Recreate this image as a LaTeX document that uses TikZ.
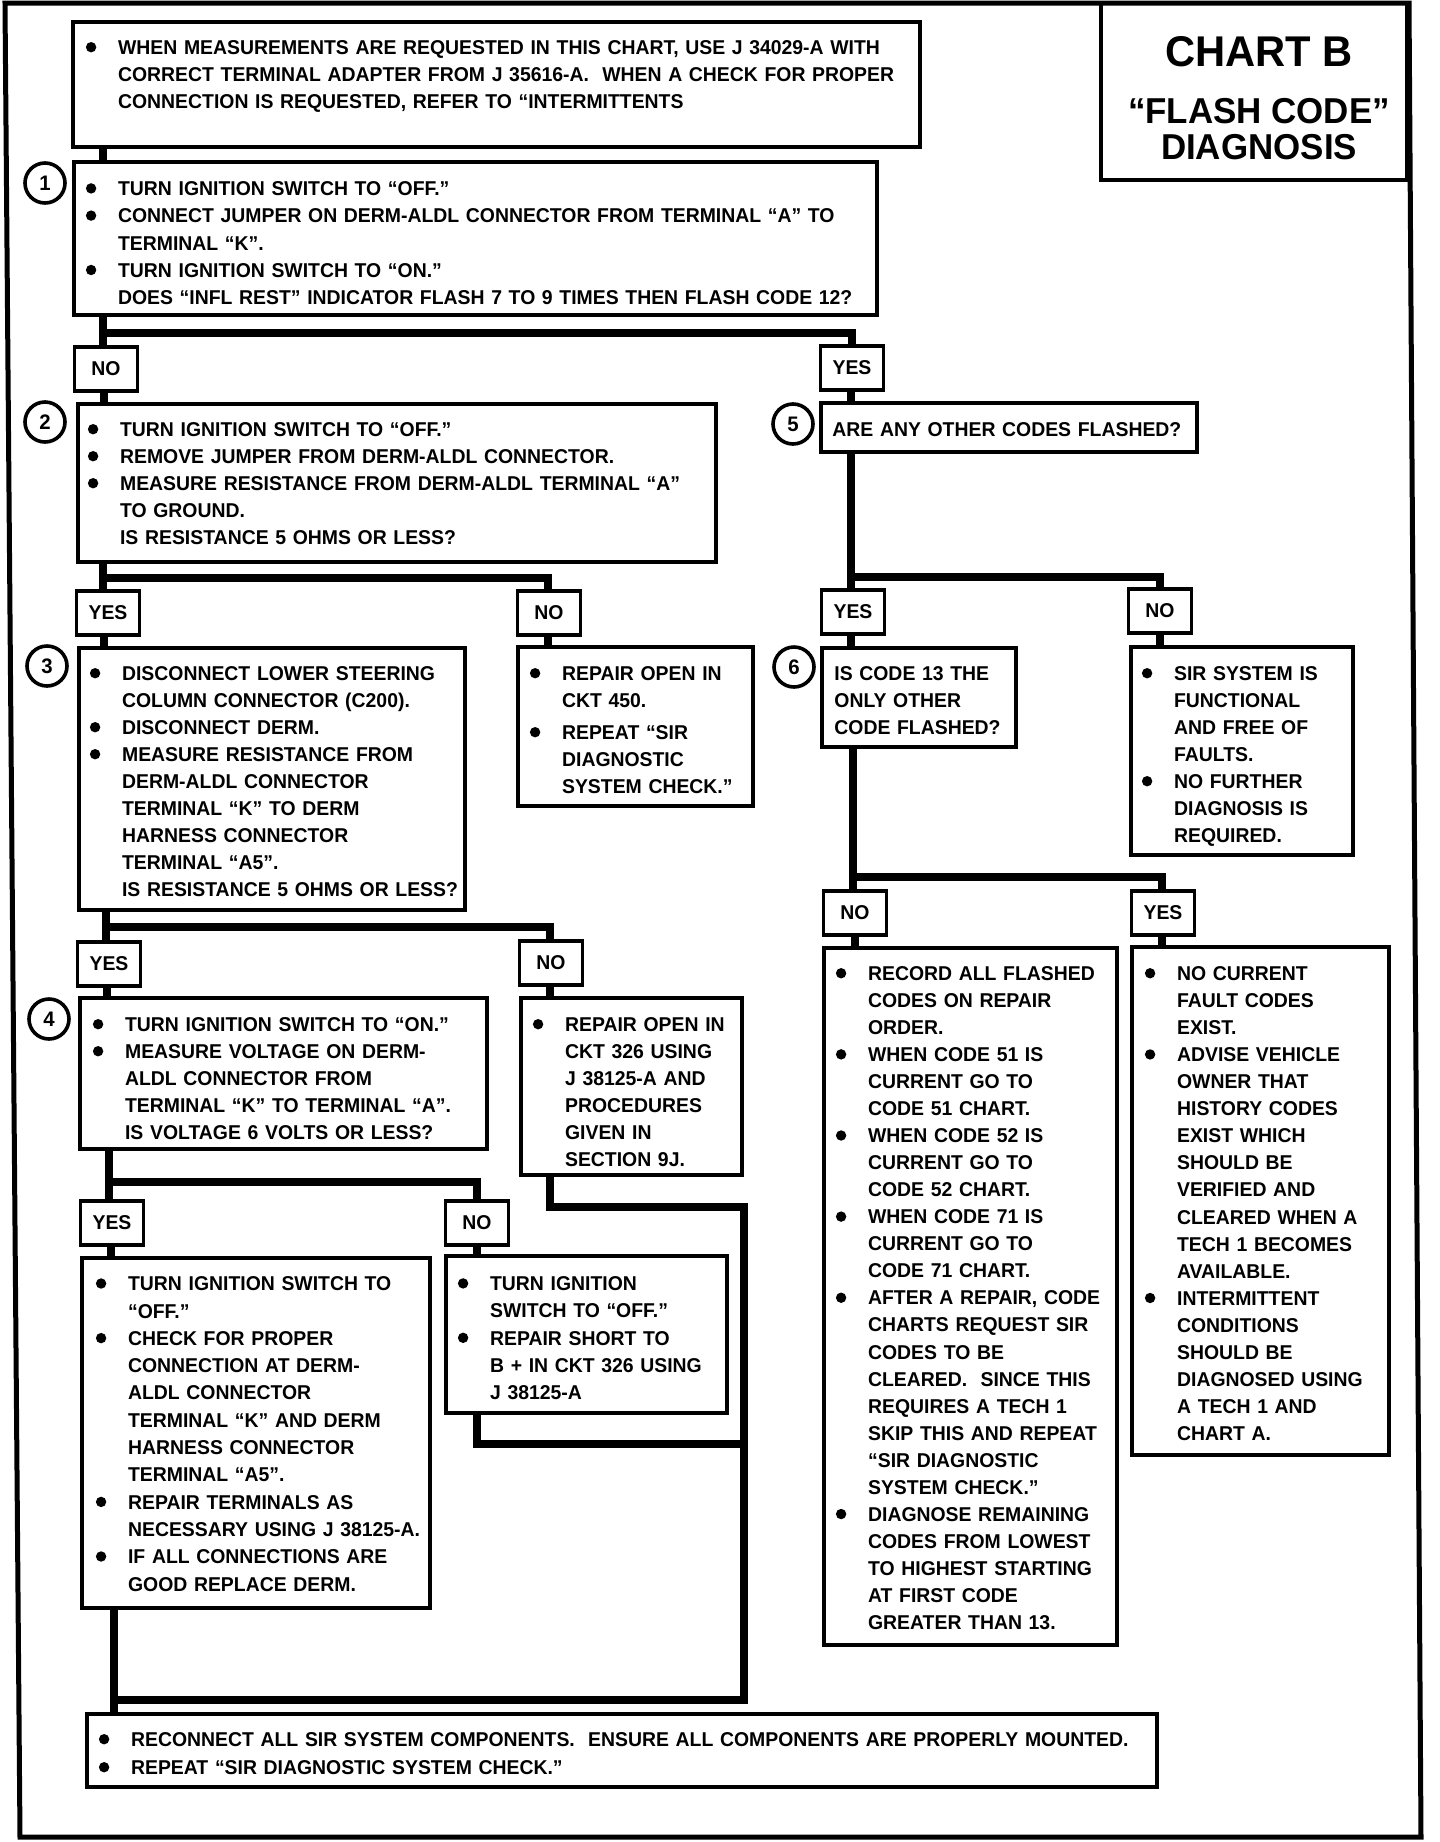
\documentclass[tikz,border=0pt]{standalone}
\usepackage{fontspec}
\setmainfont{Liberation Sans}[FakeStretch=0.97]
\usepackage{graphicx}
\usetikzlibrary{fit,calc}
\newlength\hangw
\setlength\hangw{17.35pt}
\newcommand\bdot{\tikz[x=1pt,y=1pt,baseline=-3.6pt]\fill (0,0) circle (2.6pt);}
\newcommand\bitem{\par\noindent\rule{0pt}{10pt}\makebox[\hangw][l]{\hspace{1.25pt}\bdot}}
\newcommand\citem{\par\noindent\rule{0pt}{10pt}\hspace*{\hangw}}
\newcommand\pline{\par\noindent\rule{0pt}{10pt}}
\begin{document}
\begin{tikzpicture}[x=0.5pt,y=-0.5pt,
  box/.style={draw, line width=1.6pt, inner sep=0pt},
  lab/.style={draw, line width=1.6pt, inner sep=0pt, minimum width=31.5pt, minimum height=22pt, font=\bfseries\fontsize{10}{12}\selectfont},
  num/.style={circle, draw, line width=1.8pt, minimum size=20pt, inner sep=0pt, font=\bfseries\fontsize{10.5}{12}\selectfont},
  conn/.style={line width=3.8pt},
  outerframe/.style={line width=2.5pt},
  txt/.style={anchor=north west, inner sep=0pt, text width=560pt},
  tf/.style={font=\bfseries\fontsize{10}{#1}\selectfont},
]
\useasboundingbox (0,0) rectangle (1440,1842);
\draw[outerframe] (5,3) -- (1409,3) -- (1421,1837) -- (20,1837) -- cycle;

% title
\node[box, fit={(1101,3) (1407,180)}] (title) {};
\node[font=\bfseries\fontsize{21.5}{24}\selectfont] (t1) at (1259,52) {CHART B};
\node[font=\bfseries\fontsize{18}{20}\selectfont] (t2) at (1259,111) {“FLASH CODE”};
\node[font=\bfseries\fontsize{18}{20}\selectfont] (t3) at (1259,147) {DIAGNOSIS};

% x positions
\coordinate (x103) at (103,0);
\coordinate (x104) at (104,0);
\coordinate (x106) at (106,0);
\coordinate (x107) at (107,0);
\coordinate (x109) at (109,0);
\coordinate (x111) at (111,0);
\coordinate (x114) at (114,0);
\coordinate (x477) at (477,0);
\coordinate (x548) at (548,0);
\coordinate (x550) at (550,0);
\coordinate (x851) at (851,0);
\coordinate (x853) at (853,0);
\coordinate (x855) at (855,0);
\coordinate (x1160) at (1160,0);
\coordinate (x1162) at (1162,0);

% boxes
\node[box, fit={(73,22) (920,147)}] (top) {};
\node[box, fit={(74,162) (877,315)}] (b1) {};
\node[lab] (no1) at (106,369) {NO};
\node[lab] (yes1) at (852,368) {YES};
\node[box, fit={(78,404) (716,562)}] (b2) {};
\node[box, fit={(821,403) (1197,452)}] (b5) {};
\node[lab] (yes2) at (108,613) {YES};
\node[lab] (no2) at (549,613) {NO};
\node[lab] (yes5) at (853,612) {YES};
\node[lab] (no5) at (1160,611) {NO};
\node[box, fit={(79,648) (465,910)}] (b3) {};
\node[box, fit={(518,647) (753,806)}] (b450) {};
\node[box, fit={(822,648) (1016,747)}] (b6) {};
\node[box, fit={(1131,647) (1353,855)}] (bsir) {};
\node[lab] (yes3) at (109,964) {YES};
\node[lab] (no3) at (551,963) {NO};
\node[box, fit={(80,998) (487,1149)}] (b4) {};
\node[box, fit={(521,998) (742,1175)}] (b326) {};
\node[lab] (yes4) at (112,1223) {YES};
\node[lab] (no4) at (477,1223) {NO};
\node[box, fit={(82,1258) (430,1608)}] (bl) {};
\node[box, fit={(446,1256) (727,1413)}] (br) {};
\node[lab] (no6) at (855,913) {NO};
\node[lab] (yes6) at (1163,913) {YES};
\node[box, fit={(824,948) (1117,1645)}] (brec) {};
\node[box, fit={(1132,947) (1389,1455)}] (bcur) {};
\node[box, fit={(87,1714) (1157,1787)}] (bbot) {};

% numbers
\node[num] (c1) at (45,183) {1};
\node[num] (c2) at (45,422) {2};
\node[num] (c3) at (47,666) {3};
\node[num] (c4) at (49,1019) {4};
\node[num] (c5) at (793,424) {5};
\node[num] (c6) at (794,667) {6};

% texts
\node[txt, tf=13.5] (topt) at (83,27) {%
\bitem WHEN MEASUREMENTS ARE REQUESTED IN THIS CHART, USE J 34029-A WITH
\citem CORRECT TERMINAL ADAPTER FROM J 35616-A.\ \ WHEN A CHECK FOR PROPER
\citem CONNECTION IS REQUESTED, REFER TO “INTERMITTENTS\par};

\node[txt, tf=13.6] (b1t) at (83,168) {%
\bitem TURN IGNITION SWITCH TO “OFF.”
\bitem CONNECT JUMPER ON DERM-ALDL CONNECTOR FROM TERMINAL “A” TO
\citem TERMINAL “K”.
\bitem TURN IGNITION SWITCH TO “ON.”
\citem DOES “INFL REST” INDICATOR FLASH 7 TO 9 TIMES THEN FLASH CODE 12?\par};

\node[txt, tf=13.5] (b2t) at (85,409) {%
\bitem TURN IGNITION SWITCH TO “OFF.”
\bitem REMOVE JUMPER FROM DERM-ALDL CONNECTOR.
\bitem MEASURE RESISTANCE FROM DERM-ALDL TERMINAL “A”
\citem TO GROUND.
\citem IS RESISTANCE 5 OHMS OR LESS?\par};

\node[txt, tf=13.5] (b3t) at (87,653) {%
\bitem DISCONNECT LOWER STEERING
\citem COLUMN CONNECTOR (C200).
\bitem DISCONNECT DERM.
\bitem MEASURE RESISTANCE FROM
\citem DERM-ALDL CONNECTOR
\citem TERMINAL “K” TO DERM
\citem HARNESS CONNECTOR
\citem TERMINAL “A5”.
\citem IS RESISTANCE 5 OHMS OR LESS?\par};

\node[txt, tf=13.5] (b450t) at (527,653) {%
\bitem REPAIR OPEN IN
\citem CKT 450.\par\vspace{2.5pt}
\bitem REPEAT “SIR
\citem DIAGNOSTIC
\citem SYSTEM CHECK.”\par};

\node[txt, tf=13.5] (b5t) at (832,409) {%
\pline ARE ANY OTHER CODES FLASHED?\par};

\node[txt, tf=13.5] (b6t) at (834,653) {%
\pline IS CODE 13 THE
\pline ONLY OTHER
\pline CODE FLASHED?\par};

\node[txt, tf=13.5] (bsirt) at (1139,653) {%
\bitem SIR SYSTEM IS
\citem FUNCTIONAL
\citem AND FREE OF
\citem FAULTS.
\bitem NO FURTHER
\citem DIAGNOSIS IS
\citem REQUIRED.\par};

\node[txt, tf=13.5] (b4t) at (90,1004) {%
\bitem TURN IGNITION SWITCH TO “ON.”
\bitem MEASURE VOLTAGE ON DERM-
\citem ALDL CONNECTOR FROM
\citem TERMINAL “K” TO TERMINAL “A”.
\citem IS VOLTAGE 6 VOLTS OR LESS?\par};

\node[txt, tf=13.5] (b326t) at (530,1004) {%
\bitem REPAIR OPEN IN
\citem CKT 326 USING
\citem J 38125-A AND
\citem PROCEDURES
\citem GIVEN IN
\citem SECTION 9J.\par};

\node[txt, tf=13.65] (blt) at (93,1263) {%
\bitem TURN IGNITION SWITCH TO
\citem “OFF.”
\bitem CHECK FOR PROPER
\citem CONNECTION AT DERM-
\citem ALDL CONNECTOR
\citem TERMINAL “K” AND DERM
\citem HARNESS CONNECTOR
\citem TERMINAL “A5”.
\bitem REPAIR TERMINALS AS
\citem NECESSARY USING J 38125-A.
\bitem IF ALL CONNECTIONS ARE
\citem GOOD REPLACE DERM.\par};

\node[txt, tf=13.6] (brt) at (455,1263) {%
\bitem TURN IGNITION
\citem SWITCH TO “OFF.”
\bitem REPAIR SHORT TO
\citem B + IN CKT 326 USING
\citem J 38125-A\par};

\node[txt, tf=13.52] (brect) at (833,953) {%
\bitem RECORD ALL FLASHED
\citem CODES ON REPAIR
\citem ORDER.
\bitem WHEN CODE 51 IS
\citem CURRENT GO TO
\citem CODE 51 CHART.
\bitem WHEN CODE 52 IS
\citem CURRENT GO TO
\citem CODE 52 CHART.
\bitem WHEN CODE 71 IS
\citem CURRENT GO TO
\citem CODE 71 CHART.
\bitem AFTER A REPAIR, CODE
\citem CHARTS REQUEST SIR
\citem CODES TO BE
\citem CLEARED.\ \ SINCE THIS
\citem REQUIRES A TECH 1
\citem SKIP THIS AND REPEAT
\citem “SIR DIAGNOSTIC
\citem SYSTEM CHECK.”
\bitem DIAGNOSE REMAINING
\citem CODES FROM LOWEST
\citem TO HIGHEST STARTING
\citem AT FIRST CODE
\citem GREATER THAN 13.\par};

\node[txt, tf=13.53] (bcurt) at (1142,953) {%
\bitem NO CURRENT
\citem FAULT CODES
\citem EXIST.
\bitem ADVISE VEHICLE
\citem OWNER THAT
\citem HISTORY CODES
\citem EXIST WHICH
\citem SHOULD BE
\citem VERIFIED AND
\citem CLEARED WHEN A
\citem TECH 1 BECOMES
\citem AVAILABLE.
\bitem INTERMITTENT
\citem CONDITIONS
\citem SHOULD BE
\citem DIAGNOSED USING
\citem A TECH 1 AND
\citem CHART A.\par};

\node[txt, tf=14, text width=620pt] (bbott) at (96,1718) {%
\bitem RECONNECT ALL SIR SYSTEM COMPONENTS.\ \ ENSURE ALL COMPONENTS ARE PROPERLY MOUNTED.
\bitem REPEAT “SIR DIAGNOSTIC SYSTEM CHECK.”\par};

% connectors
\draw[conn] (top.south -| x103) -- (b1.north -| x103);
\draw[conn] (b1.south -| x103) -- (no1.north -| x103);
\draw[conn] (x103 |- 0,333) -| (yes1.north);
\draw[conn] (no1.south -| x104) -- (b2.north -| x104);
\draw[conn] (yes1.south -| x851) -- (b5.north -| x851);

\draw[conn] (b2.south -| x103) -- (yes2.north -| x103);
\draw[conn] (x103 |- 0,578) -| (no2.north -| x548);
\draw[conn] (yes2.south -| x104) -- (b3.north -| x104);
\draw[conn] (no2.south -| x548) -- (b450.north -| x548);

\draw[conn] (b5.south -| x851) -- (yes5.north -| x851);
\draw[conn] (x851 |- 0,577) -| (no5.north -| x1160);
\draw[conn] (yes5.south -| x851) -- (b6.north -| x851);
\draw[conn] (no5.south -| x1160) -- (bsir.north -| x1160);

\draw[conn] (b3.south -| x106) -- (yes3.north -| x106);
\draw[conn] (x106 |- 0,927) -| (no3.north -| x550);
\draw[conn] (yes3.south -| x107) -- (b4.north -| x107);
\draw[conn] (no3.south -| x550) -- (b326.north -| x550);

\draw[conn] (b4.south -| x109) -- (yes4.north -| x109);
\draw[conn] (x109 |- 0,1182) -| (no4.north -| x477);
\draw[conn] (yes4.south -| x111) -- (bl.north -| x111);
\draw[conn] (no4.south -| x477) -- (br.north -| x477);

\draw[conn] (b6.south -| x853) -- (no6.north -| x853);
\draw[conn] (x853 |- 0,877) -| (yes6.north -| x1162);
\draw[conn] (no6.south -| x855) -- (brec.north -| x855);
\draw[conn] (yes6.south -| x1162) -- (bcur.north -| x1162);

\coordinate (k1) at (744,1207);
\coordinate (k2) at (744,1700);
\coordinate (k3) at (114,1700);
\coordinate (k4) at (744,1444);
\draw[conn] (b326.south -| x550) |- (k1) -- (k2) -- (k3);
\draw[conn] (br.south -| x477) |- (k4);
\draw[conn] (bl.south -| x114) -- (bbot.north -| x114);
\end{tikzpicture}
\end{document}
